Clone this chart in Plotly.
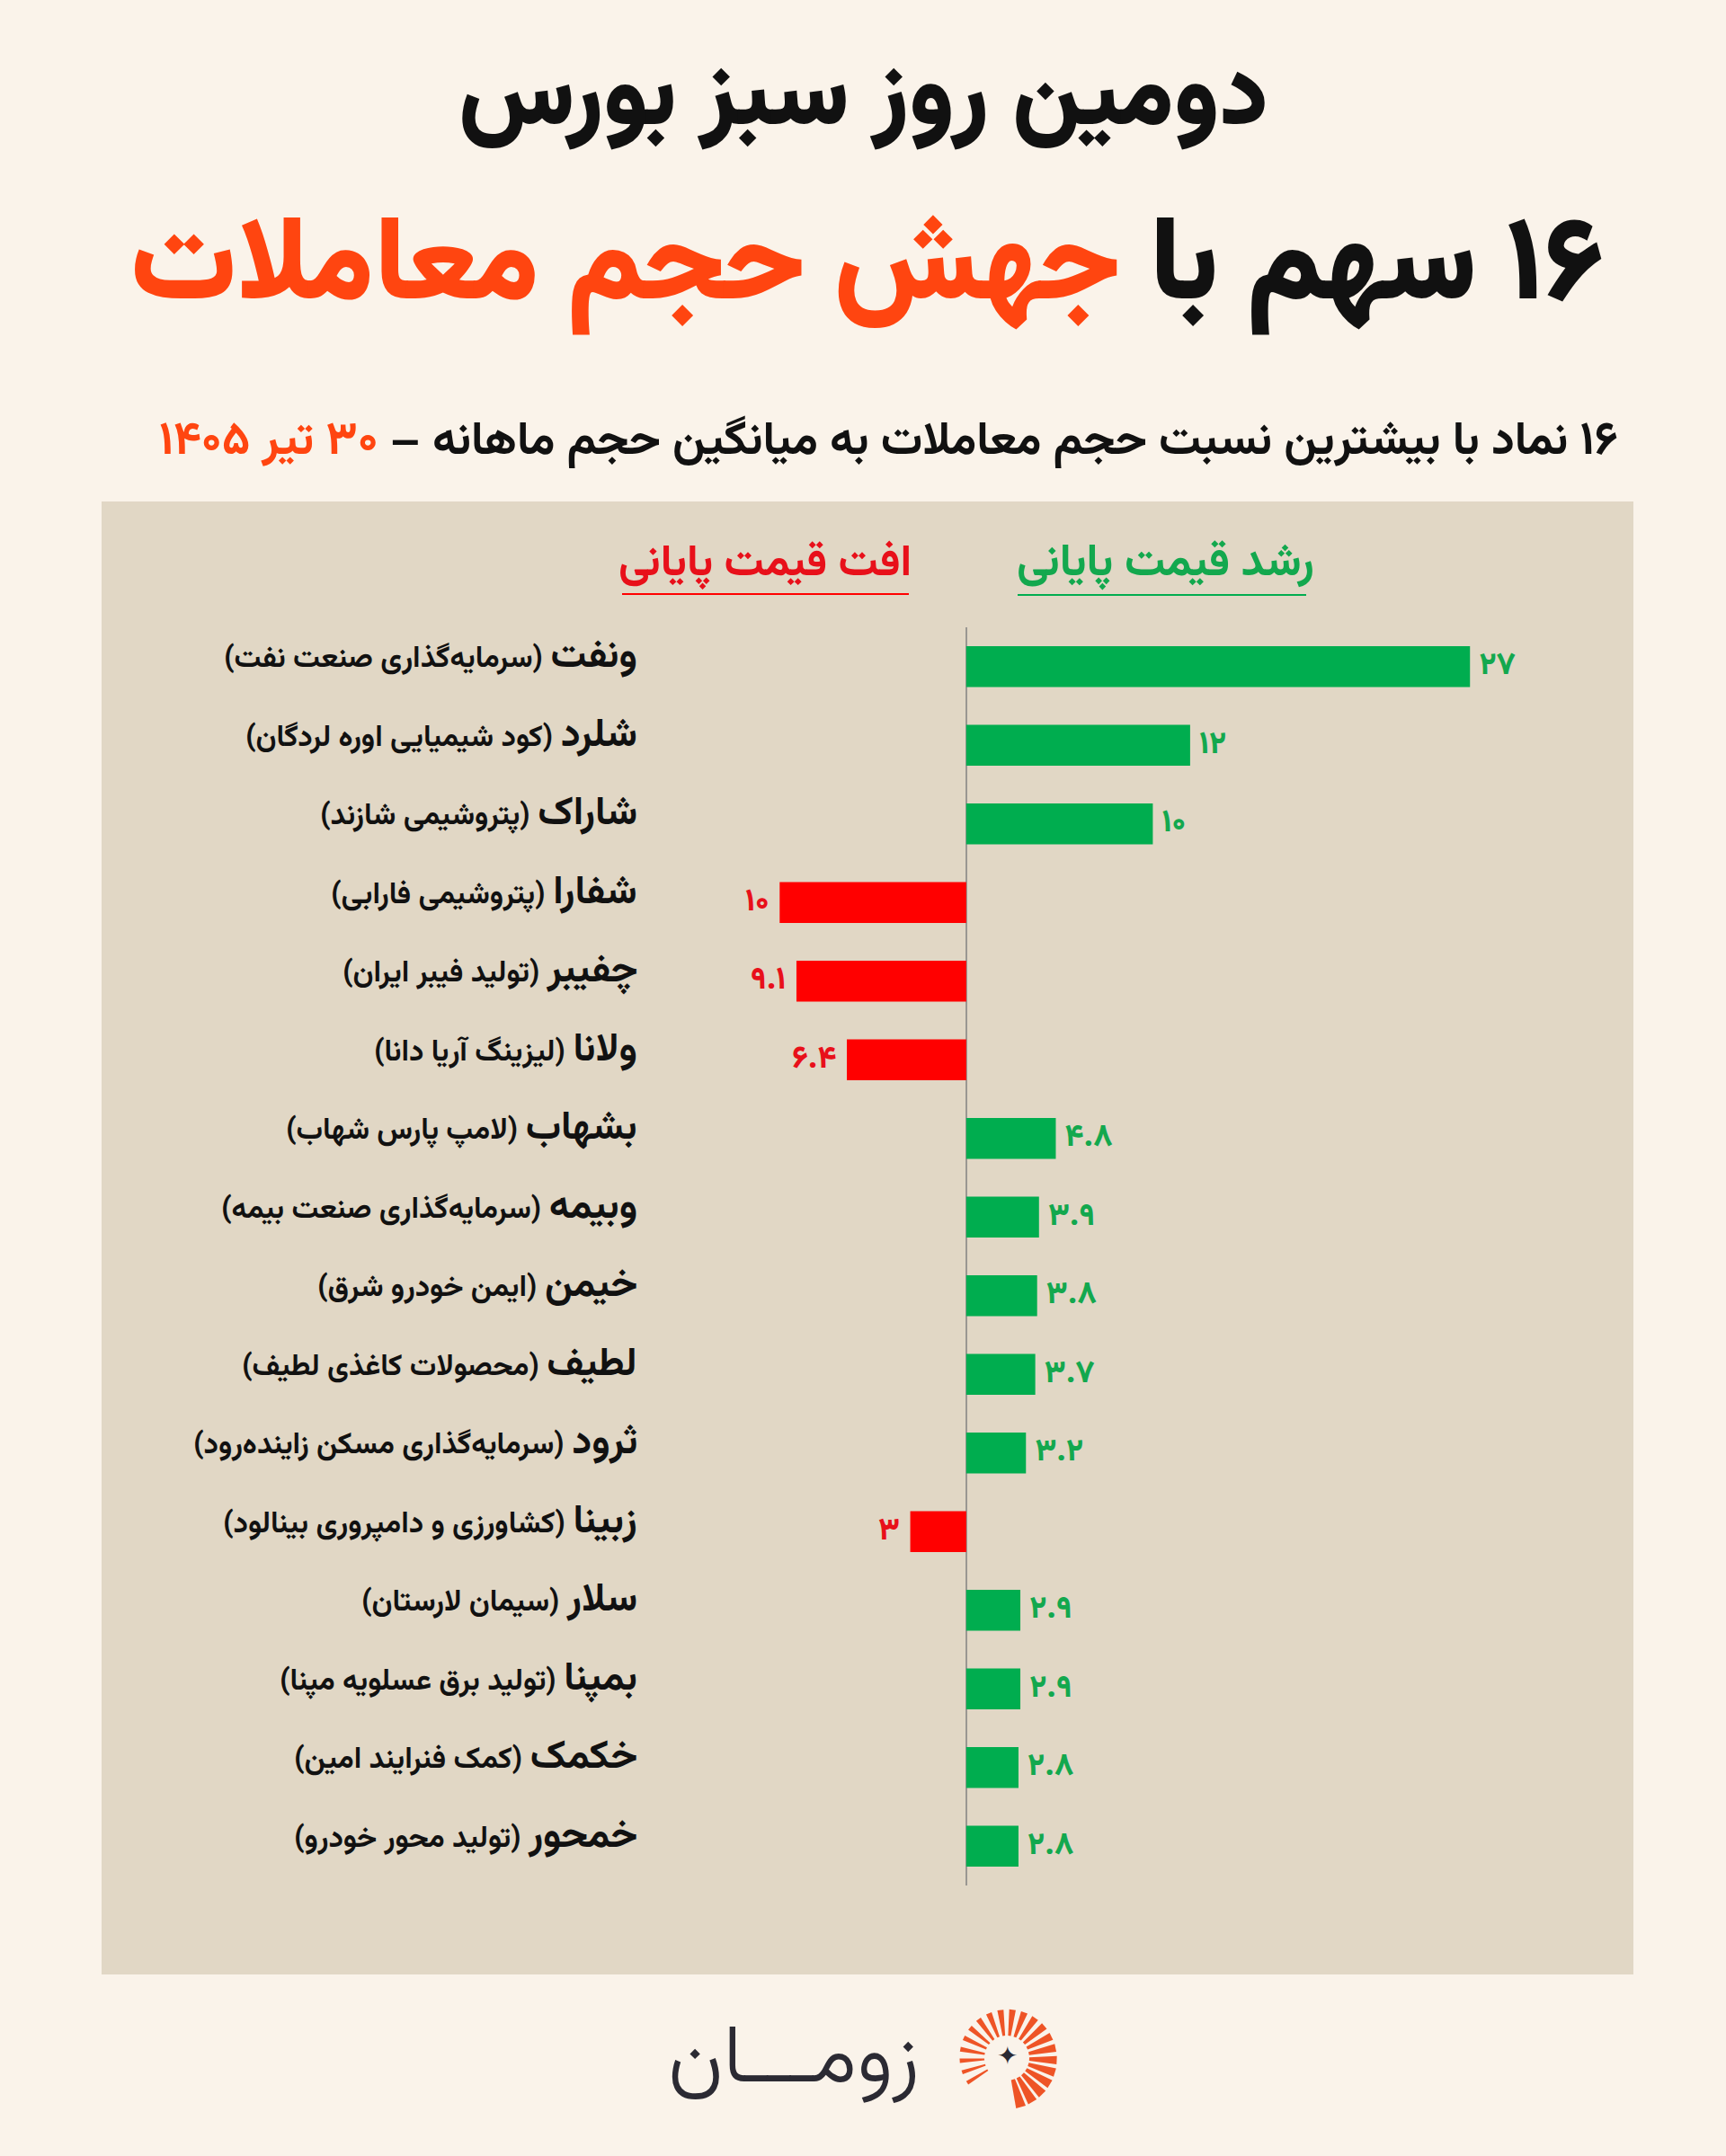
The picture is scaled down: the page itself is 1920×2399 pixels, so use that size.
import math
import plotly.graph_objects as go

W, H = 1920, 2399

# ---------------- data ----------------
symbols = ["ونفت", "شلرد", "شاراک", "شفارا", "چفیبر", "ولانا", "بشهاب", "وبیمه",
           "خیمن", "لطیف", "ثرود", "زبینا", "سلار", "بمپنا", "خکمک", "خمحور"]
names = ["سرمایه‌گذاری صنعت نفت", "کود شیمیایی اوره لردگان", "پتروشیمی شازند",
         "پتروشیمی فارابی", "تولید فیبر ایران", "لیزینگ آریا دانا", "لامپ پارس شهاب",
         "سرمایه‌گذاری صنعت بیمه", "ایمن خودرو شرق", "محصولات کاغذی لطیف",
         "سرمایه‌گذاری مسکن زاینده‌رود", "کشاورزی و دامپروری بینالود",
         "سیمان لارستان", "تولید برق عسلویه مپنا", "کمک فنرایند امین", "تولید محور خودرو"]
ratios = [27, 12, 10, 10, 9.1, 6.4, 4.8, 3.9, 3.8, 3.7, 3.2, 3, 2.9, 2.9, 2.8, 2.8]
direction = ["up", "up", "up", "down", "down", "down", "up", "up",
             "up", "up", "up", "down", "up", "up", "up", "up"]

title1 = "دومین روز سبز بورس"
title2_black = "۱۶ سهم با "
title2_orange = "جهش حجم معاملات"
subtitle_black = "۱۶ نماد با بیشترین نسبت حجم معاملات به میانگین حجم ماهانه – "
subtitle_orange = "۳۰ تیر ۱۴۰۵"
legend_up = "رشد قیمت پایانی"
legend_down = "افت قیمت پایانی"
brand = "زومـــان"

# ---------------- styles ----------------
BG = "#FAF3EA"
PANEL = "#E1D7C5"
GREEN = "#00AD4F"
GREEN_TXT = "#13A84E"
RED = "#FF0000"
RED_TXT = "#E8101A"
ORANGE = "#FF4510"
DARK = "#111111"
FONT = "Vazirmatn, 'Noto Sans Arabic', 'DejaVu Sans', sans-serif"

PD = "۰۱۲۳۴۵۶۷۸۹"


def fa(v):
    s = ("%g" % v)
    return "".join(PD[int(c)] if c.isdigit() else c for c in s)


def rtl(s):
    return "\u202b" + s + "\u202c"


def px(x):
    return x / W


def py(y):
    return 1 - y / H


cats = list(range(len(symbols)))
xvals = [r if d == "up" else -r for r, d in zip(ratios, direction)]
colors = [GREEN if d == "up" else RED for d in direction]
tcolors = [GREEN_TXT if d == "up" else RED_TXT for d in direction]
labels = [("\u2009" + fa(r)) if d == "up" else (fa(r) + "\u00a0")
          for r, d in zip(ratios, direction)]

fig = go.Figure()
fig.add_trace(go.Bar(
    y=cats, x=xvals, orientation="h",
    marker=dict(color=colors, line=dict(width=0)),
    width=0.52,
    text=labels,
    textposition="outside",
    constraintext="none",
    textfont=dict(family=FONT, size=35, color=tcolors, weight=800),
    cliponaxis=False,
    hoverinfo="skip",
))

x_left, x_right = 722, 1697.5
y_top, y_bot = 698, 2098

fig.update_layout(
    width=W, height=H,
    margin=dict(l=0, r=0, t=0, b=0),
    paper_bgcolor=BG, plot_bgcolor="rgba(0,0,0,0)",
    showlegend=False,
    xaxis=dict(domain=[px(x_left), px(x_right)], range=[-17, 30],
               showgrid=False, showticklabels=False, ticks="",
               zeroline=True, zerolinecolor="#9A9792", zerolinewidth=2, fixedrange=True),
    yaxis=dict(domain=[py(y_bot), py(y_top)], range=[15.5, -0.5],
               showgrid=False, showticklabels=False, ticks="", zeroline=False,
               fixedrange=True),
    uniformtext=dict(mode=False),
)

shapes = []
# panel
shapes.append(dict(type="rect", xref="paper", yref="paper", layer="below",
                   x0=px(113), x1=px(1817), y0=py(2197), y1=py(558),
                   fillcolor=PANEL, line=dict(width=0)))
# legend underlines
shapes.append(dict(type="line", xref="paper", yref="paper",
                   x0=px(1132), x1=px(1453), y0=py(662), y1=py(662),
                   line=dict(color=GREEN, width=2)))
shapes.append(dict(type="line", xref="paper", yref="paper",
                   x0=px(692), x1=px(1011), y0=py(661), y1=py(661),
                   line=dict(color=RED, width=2)))

# logo sunburst (decorative)
cx, cy = 1120, 2290
n_rays = 21
a_start, a_end = -74, 212
for i in range(n_rays):
    a = math.radians(a_start + (a_end - a_start) * i / (n_rays - 1))
    frac = i / (n_rays - 1)
    half = math.radians(5.6 - 3.2 * frac)
    r0, r1 = 25, 57 - 5 * frac
    pts = [(cx + r0 * math.cos(a - half * 0.9), cy - r0 * math.sin(a - half * 0.9)),
           (cx + r1 * math.cos(a - half), cy - r1 * math.sin(a - half)),
           (cx + r1 * math.cos(a + half), cy - r1 * math.sin(a + half)),
           (cx + r0 * math.cos(a + half * 0.9), cy - r0 * math.sin(a + half * 0.9))]
    path = "M " + " L ".join("%.5f,%.5f" % (px(x), py(y)) for x, y in pts) + " Z"
    shapes.append(dict(type="path", xref="paper", yref="paper", path=path,
                       fillcolor="#EE5426", line=dict(width=0)))
fig.update_layout(shapes=shapes)

ann = []
# titles
ann.append(dict(xref="paper", yref="paper", x=0.5, y=py(112), xanchor="center", yanchor="middle",
                text=rtl(title1), showarrow=False,
                font=dict(family=FONT, size=107, color=DARK, weight=900)))
ann.append(dict(xref="paper", yref="paper", x=px(964), y=py(300), xanchor="center", yanchor="middle",
                text=rtl(title2_black + "<span style='color:" + ORANGE + "'>" +
                         title2_orange + "</span>"), showarrow=False,
                font=dict(family=FONT, size=131, color=DARK, weight=900)))
ann.append(dict(xref="paper", yref="paper", x=px(1802), y=py(493), xanchor="right", yanchor="middle",
                text=rtl("<b>" + subtitle_black + "<span style='color:" + ORANGE + "'>" +
                         subtitle_orange + "</span></b>"), showarrow=False,
                font=dict(family=FONT, size=52, color=DARK)))
# legend headers
ann.append(dict(xref="paper", yref="paper", x=px(1296), y=py(628), xanchor="center", yanchor="middle",
                text=rtl("<b>" + legend_up + "</b>"), showarrow=False,
                font=dict(family=FONT, size=50, color=GREEN_TXT)))
ann.append(dict(xref="paper", yref="paper", x=px(851), y=py(628), xanchor="center", yanchor="middle",
                text=rtl("<b>" + legend_down + "</b>"), showarrow=False,
                font=dict(family=FONT, size=49, color=RED_TXT)))
# row labels
for i, (s, n) in enumerate(zip(symbols, names)):
    ann.append(dict(xref="paper", yref="y", x=px(711), y=i, xanchor="right", yanchor="middle",
                    yshift=10,
                    text=rtl("<b><span style='font-size:44px'>" + s + "</span> (" + n + ")</b>"),
                    showarrow=False,
                    font=dict(family=FONT, size=33, color=DARK)))
# brand
ann.append(dict(xref="paper", yref="paper", x=px(883), y=py(2293), xanchor="center", yanchor="middle",
                text=rtl(brand), showarrow=False,
                font=dict(family=FONT, size=92, color="#2B2A33", weight=300)))
ann.append(dict(xref="paper", yref="paper", x=px(cx), y=py(cy), xanchor="center", yanchor="middle",
                text="✦", showarrow=False,
                font=dict(family=FONT, size=28, color="#2B2A33")))
fig.update_layout(annotations=ann)

fig.write_html("out.html")
